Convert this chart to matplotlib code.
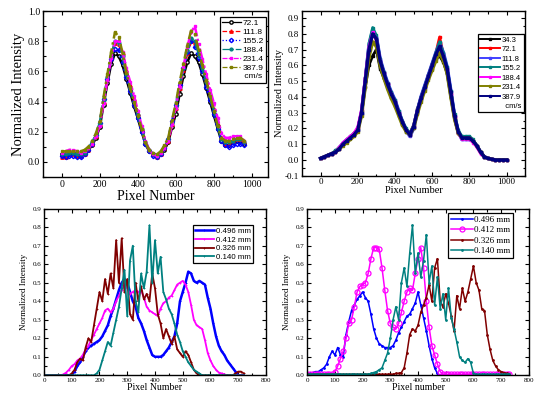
import matplotlib
matplotlib.use("Agg")
import matplotlib.pyplot as plt
from matplotlib.lines import Line2D
from matplotlib.ticker import MultipleLocator, FormatStrFormatter

# ---------------- data ----------------
# Panel (a): pixel positions and normalized intensity per flow speed (cm/s)
pix_a = list(range(0, 961, 20))
a_labels = ["72.1", "111.8", "155.2", "188.4", "231.4", "387.9"]
a_721 = [0.05,0.05,0.06,0.06,0.05,0.05,0.06,0.08,0.11,0.16,0.23,0.38,0.52,0.65,0.72,0.70,0.64,0.55,0.46,0.37,0.29,0.20,0.12,0.07,0.05,0.04,0.05,0.08,0.13,0.23,0.32,0.45,0.57,0.66,0.72,0.70,0.66,0.58,0.49,0.40,0.31,0.22,0.14,0.11,0.11,0.13,0.14,0.14,0.12]
a_1118 = [0.03,0.03,0.05,0.05,0.04,0.04,0.05,0.08,0.12,0.17,0.25,0.40,0.55,0.69,0.79,0.78,0.72,0.61,0.51,0.42,0.32,0.22,0.13,0.08,0.05,0.03,0.05,0.09,0.14,0.25,0.36,0.49,0.61,0.72,0.80,0.79,0.73,0.64,0.54,0.45,0.35,0.25,0.16,0.12,0.12,0.14,0.15,0.15,0.13]
a_1552 = [0.04,0.03,0.04,0.04,0.03,0.03,0.05,0.08,0.12,0.18,0.26,0.42,0.55,0.68,0.75,0.74,0.66,0.56,0.47,0.38,0.29,0.20,0.12,0.07,0.04,0.03,0.05,0.09,0.15,0.27,0.38,0.51,0.62,0.73,0.80,0.76,0.69,0.60,0.50,0.41,0.32,0.22,0.14,0.11,0.10,0.11,0.12,0.12,0.11]
a_1884 = [0.05,0.05,0.06,0.06,0.05,0.05,0.06,0.09,0.13,0.18,0.26,0.41,0.56,0.70,0.80,0.79,0.70,0.58,0.49,0.40,0.31,0.22,0.13,0.08,0.05,0.04,0.06,0.10,0.15,0.26,0.37,0.50,0.62,0.74,0.82,0.80,0.72,0.62,0.53,0.44,0.34,0.24,0.15,0.13,0.13,0.14,0.15,0.15,0.13]
a_2314 = [0.06,0.07,0.08,0.08,0.07,0.06,0.07,0.09,0.12,0.17,0.24,0.39,0.54,0.69,0.80,0.80,0.73,0.62,0.53,0.44,0.34,0.24,0.14,0.08,0.05,0.04,0.06,0.09,0.14,0.25,0.36,0.50,0.63,0.76,0.86,0.90,0.78,0.68,0.58,0.48,0.39,0.29,0.19,0.16,0.16,0.17,0.17,0.17,0.14]
a_3879 = [0.07,0.07,0.07,0.07,0.07,0.07,0.08,0.10,0.14,0.19,0.27,0.43,0.58,0.73,0.86,0.83,0.72,0.59,0.49,0.40,0.31,0.22,0.13,0.08,0.06,0.05,0.07,0.11,0.16,0.28,0.39,0.53,0.65,0.77,0.87,0.85,0.74,0.64,0.54,0.44,0.34,0.24,0.16,0.14,0.14,0.15,0.16,0.16,0.14]

# Panel (b)
pix_b = list(range(0, 1001, 20))
b_labels = ["34.3", "72.1", "111.8", "155.2", "188.4", "231.4", "387.9"]
b_343 = [0.01,0.02,0.03,0.04,0.05,0.07,0.10,0.12,0.14,0.16,0.19,0.29,0.46,0.60,0.66,0.70,0.58,0.52,0.46,0.40,0.36,0.29,0.23,0.18,0.16,0.21,0.30,0.38,0.45,0.52,0.58,0.64,0.66,0.62,0.55,0.40,0.26,0.17,0.14,0.14,0.14,0.12,0.09,0.05,0.02,0.01,0.005,0,0,0,0]
b_721 = [0.01,0.02,0.03,0.04,0.05,0.07,0.10,0.12,0.14,0.17,0.20,0.31,0.52,0.72,0.80,0.76,0.62,0.55,0.48,0.42,0.37,0.30,0.24,0.19,0.17,0.22,0.32,0.40,0.47,0.54,0.61,0.68,0.78,0.67,0.58,0.42,0.27,0.17,0.14,0.14,0.14,0.12,0.09,0.05,0.02,0.01,0.005,0,0,0,0]
b_1118 = [0.01,0.02,0.03,0.04,0.05,0.07,0.10,0.12,0.14,0.16,0.19,0.30,0.50,0.72,0.82,0.78,0.64,0.56,0.49,0.43,0.38,0.31,0.24,0.19,0.15,0.20,0.31,0.40,0.47,0.54,0.61,0.68,0.74,0.68,0.59,0.44,0.28,0.18,0.13,0.13,0.13,0.12,0.09,0.05,0.02,0.01,0.005,0,0,0,0]
b_1552 = [0.01,0.02,0.03,0.04,0.06,0.08,0.11,0.13,0.15,0.17,0.20,0.31,0.52,0.74,0.84,0.79,0.64,0.56,0.49,0.43,0.38,0.31,0.25,0.20,0.17,0.22,0.32,0.40,0.47,0.54,0.61,0.68,0.75,0.68,0.59,0.44,0.29,0.19,0.15,0.15,0.15,0.13,0.09,0.05,0.02,0.01,0.005,0,0,0,0]
b_1884 = [0.01,0.02,0.03,0.04,0.05,0.08,0.11,0.13,0.15,0.17,0.21,0.32,0.52,0.72,0.81,0.77,0.63,0.55,0.48,0.42,0.37,0.30,0.24,0.19,0.16,0.21,0.31,0.39,0.46,0.53,0.60,0.66,0.72,0.66,0.57,0.42,0.27,0.17,0.13,0.13,0.13,0.11,0.08,0.04,0.02,0.01,0.005,0,0,0,0]
b_2314 = [0.01,0.02,0.03,0.04,0.05,0.07,0.09,0.11,0.13,0.15,0.18,0.28,0.46,0.65,0.75,0.72,0.60,0.52,0.45,0.39,0.34,0.28,0.22,0.18,0.16,0.20,0.29,0.37,0.44,0.51,0.57,0.63,0.68,0.63,0.55,0.40,0.26,0.17,0.14,0.14,0.14,0.12,0.09,0.05,0.02,0.01,0.005,0,0,0,0]
b_3879 = [0.01,0.02,0.03,0.04,0.05,0.07,0.10,0.12,0.14,0.16,0.19,0.30,0.50,0.70,0.80,0.77,0.63,0.55,0.48,0.42,0.37,0.30,0.24,0.19,0.16,0.21,0.31,0.39,0.46,0.53,0.60,0.67,0.72,0.66,0.58,0.43,0.28,0.18,0.14,0.14,0.14,0.12,0.09,0.05,0.02,0.01,0.005,0,0,0,0]

# Panel (c): pixel positions and intensity per gap (mm)
pix_c = list(range(0, 721, 10))
c_labels = ["0.496 mm", "0.412 mm", "0.326 mm", "0.140 mm"]
c_496 = [0,0,0,0,0,0,0,0,0,0,0,
         0.02,0.05,0.07,0.10,0.13,0.15,0.16,0.17,0.18,0.19,0.21,0.24,0.27,0.32,0.36,0.41,0.46,0.50,0.52,0.50,
         0.45,0.40,0.37,0.31,0.28,0.24,0.19,0.15,0.11,0.10,0.10,0.10,0.11,0.13,0.15,0.18,0.21,0.28,0.40,0.45,
         0.50,0.56,0.55,0.51,0.50,0.51,0.50,0.49,0.42,0.36,0.28,0.21,0.16,0.13,0.11,0.08,0.06,0.04,0.02,0.00,0,0]
c_412 = [0,0,0,0,0,0,0,
         0.005,0.015,0.03,0.05,0.06,0.08,0.09,0.11,0.14,0.16,0.19,0.22,0.25,0.28,0.31,0.35,0.36,0.34,0.36,0.40,
         0.43,0.46,0.49,0.47,0.44,0.45,0.46,0.45,0.46,0.42,0.37,0.35,0.34,0.33,0.32,0.36,0.39,0.40,0.42,0.43,
         0.46,0.49,0.50,0.51,0.49,0.45,0.38,0.30,0.27,0.26,0.25,0.19,0.12,0.08,0.05,0.03,0.015,0.01,0.005,
         0,0,0,0,0,0,0]
c_326 = [0,0,0,0,0,0,0,0,0,0,
         0.01,0.03,0.07,0.09,0.08,0.15,0.20,0.18,0.27,0.36,0.45,0.40,0.52,0.44,0.55,0.47,0.73,0.50,0.74,0.45,
         0.52,0.33,0.30,0.50,0.40,0.48,0.41,0.44,0.40,0.55,0.47,0.33,0.28,0.20,0.25,0.21,0.17,0.21,0.14,0.12,
         0.10,0.13,0.11,0.07,0.03,0.01,0.005,
         0,0,0,0,0,0,0,0,0,0,0,0,0.01,0.02,0.02,0.01]
c_140 = [0,0,0,0,0,0,0,0,0,0,0,0,0,0,0,0,0,0,0,
         0.01,0.03,0.08,0.13,0.18,0.16,0.23,0.30,0.37,0.47,0.57,0.32,0.62,0.70,0.40,0.34,0.55,0.47,0.56,0.81,
         0.50,0.73,0.55,0.64,0.45,0.41,0.36,0.33,0.28,0.22,0.18,0.13,0.10,0.07,0.05,0.03,0.02,0.01,0,
         0,0,0,0,0,0,0,0,0,0,0,0,0,0,0]

# Panel (d)
pix_d = list(range(0, 731, 10))
d_labels = ["0.496 mm", "0.412 mm", "0.326 mm", "0.140 mm"]
d_496 = [0.01,0.01,0.015,0.02,0.02,0.03,0.04,0.06,0.10,0.13,0.11,0.15,0.11,0.10,0.22,0.29,0.35,0.38,0.41,0.43,
         0.45,0.42,0.40,0.33,0.25,0.20,0.17,0.16,0.15,0.15,0.15,0.16,0.19,0.23,0.26,0.29,0.32,0.33,0.36,0.39,
         0.45,0.38,0.31,0.24,0.16,0.09,0.04,0.01,0,
         0,0,0,0,0,0,0,0,0,0,0,0,0,0,0,0,0,0,0,0,0,0,0,0,0]
d_412 = [0.005,0.005,0.005,0.005,0.005,0.005,0.005,0.005,0.005,0.005,
         0.02,0.05,0.09,0.13,0.20,0.28,0.30,0.37,0.45,0.48,0.49,0.50,0.55,0.63,0.69,0.69,0.68,0.58,0.46,0.35,
         0.28,0.26,0.25,0.28,0.34,0.40,0.45,0.47,0.46,0.55,0.63,0.69,0.58,0.40,0.26,0.16,0.11,0.06,0.02,0.005,
         0.005,0.005,0.005,0.005,0.005,0.005,0.005,0.005,0.005,0.005,0.005,0.005,0.005,0.005,0.005,0.005,0.005,0.005,0.005,0.005,0.005,0.005,0.005,0.005]
d_326 = [0.005,0.005,0.005,0.005,0.005,0.005,0.005,0.005,0.005,0.005,0.005,0.005,0.005,0.005,0.005,0.005,
         0.005,0.005,0.005,0.005,0.005,0.005,0.005,0.005,0.005,0.005,0.005,0.005,0.005,0.005,0.005,
         0.005,0.01,0.01,0.015,0.04,0.12,0.22,0.25,0.24,0.27,0.34,0.38,0.42,0.49,0.40,0.58,0.63,0.40,0.37,
         0.44,0.39,0.32,0.24,0.43,0.36,0.47,0.40,0.45,0.52,0.59,0.50,0.46,0.36,0.35,0.22,0.14,0.08,0.05,0.03,
         0.02,0.015,0.01,0.005]
d_140 = [0.005,0.005,0.005,0.005,0.005,0.005,0.005,0.005,0.005,0.005,0.005,0.005,0.005,0.005,0.005,0.005,
         0.005,0.005,0.005,0.005,0.005,0.005,0.005,
         0.01,0.015,0.02,0.03,0.04,0.08,0.12,0.20,0.30,0.37,0.30,0.50,0.58,0.48,0.66,0.81,0.55,0.66,0.53,
         0.62,0.76,0.50,0.59,0.38,0.53,0.36,0.44,0.30,0.47,0.31,0.25,0.18,0.10,0.08,0.07,0.09,0.07,0.01,0.005,
         0.005,0.005,0.005,0.005,0.005,0.005,0.005,0.005,0.005,0.005,0.005,0.005]

# ---------------- figure ----------------
SERIF = "Liberation Serif"
SANS = "Liberation Sans"
fig = plt.figure(figsize=(5.34, 3.96), dpi=100)

def style_axes(ax, tick_fs, xmaj, xmin, ymaj, ymin):
    for s in ax.spines.values():
        s.set_linewidth(1.0)
    ax.xaxis.set_major_locator(MultipleLocator(xmaj))
    ax.xaxis.set_minor_locator(MultipleLocator(xmin))
    ax.yaxis.set_major_locator(MultipleLocator(ymaj))
    ax.yaxis.set_minor_locator(MultipleLocator(ymin))
    ax.yaxis.set_major_formatter(FormatStrFormatter("%.1f"))
    ax.tick_params(which="both", direction="in", top=True, right=True, width=0.8)
    ax.tick_params(which="major", length=3, labelsize=tick_fs, pad=2)
    ax.tick_params(which="minor", length=1.8)
    for lab in ax.get_xticklabels() + ax.get_yticklabels():
        lab.set_fontfamily(SERIF)

def box_legend(ax, handles, labels, anchor, family, size, hl, lsp):
    leg = ax.legend(handles, labels, loc="upper right", bbox_to_anchor=anchor, borderaxespad=0,
                    prop={"family": family, "size": size}, handlelength=hl, handletextpad=0.2,
                    labelspacing=lsp, borderpad=0.3, fancybox=False, framealpha=1, edgecolor="black")
    leg.get_frame().set_linewidth(0.9)
    return leg

# ---- panel (a)
ax1 = fig.add_axes([0.080, 0.553, 0.422, 0.419])
a_series = [a_721, a_1118, a_1552, a_1884, a_2314, a_3879]
a_styles = [
    dict(color="black", ls="-", marker="o", mfc="white", ms=2.4),
    dict(color="red", ls="--", marker="^", ms=2.4),
    dict(color="blue", ls=":", marker="D", mfc="none", ms=2.2),
    dict(color="#008080", ls="-.", marker="o", ms=2.0),
    dict(color="magenta", dashes=(4, 1, 1, 1, 1, 1), marker="s", ms=2.0),
    dict(color="#808000", dashes=(4, 1.5, 1, 1.5), marker="s", ms=2.0),
]
for ys, st, lab in zip(a_series, a_styles, a_labels):
    ax1.plot(pix_a, ys, lw=1.8, label=lab, **st)
ax1.set_xlim(-100, 1085)
ax1.set_ylim(-0.1, 1.0)
style_axes(ax1, 7, 200, 100, 0.2, 0.1)
ax1.set_xlabel("Pixel Number", fontfamily=SERIF, fontsize=10, labelpad=1)
ax1.set_ylabel("Normalized Intensity", fontfamily=SERIF, fontsize=10.5, labelpad=2)
h, l = ax1.get_legend_handles_labels()
h.append(Line2D([], [], color="none"))
l.append(" cm/s")
leg1 = box_legend(ax1, h, l, (0.991, 0.964), SANS, 6, 2.2, 0.12)
for ln in leg1.get_lines():
    ln.set_linewidth(0.9)

# ---- panel (b)
ax2 = fig.add_axes([0.5655, 0.5563, 0.418, 0.416])
b_series = [b_343, b_721, b_1118, b_1552, b_1884, b_2314, b_3879]
b_colors = ["black", "red", "#4040ff", "#008080", "magenta", "#808000", "#000080"]
b_lw = [2.0, 2.0, 2.6, 2.0, 2.0, 2.4, 2.4]
for ys, c, lw, lab in zip(b_series, b_colors, b_lw, b_labels):
    ax2.plot(pix_b, ys, color=c, lw=lw, marker="s", ms=1.8, label=lab)
ax2.set_xlim(-100, 1100)
ax2.set_ylim(-0.1, 0.945)
style_axes(ax2, 6.5, 200, 100, 0.1, 0.05)
ax2.set_xlabel("Pixel Number", fontfamily=SERIF, fontsize=7.5, labelpad=0)
ax2.set_ylabel("Normalized Intensity", fontfamily=SERIF, fontsize=7.5, labelpad=1)
h, l = ax2.get_legend_handles_labels()
h.append(Line2D([], [], color="none"))
l.append("  cm/s")
leg2 = box_legend(ax2, h, l, (0.994, 0.860), SANS, 5.5, 2.6, 0.28)
for ln in leg2.get_lines():
    ln.set_linewidth(1.4)

# ---- panel (c)
ax3 = fig.add_axes([0.0824, 0.0523, 0.4157, 0.4207])
c_series = [c_496, c_412, c_326, c_140]
c_colors = ["blue", "magenta", "#800000", "#008080"]
c_lw = [1.8, 1.3, 1.3, 1.3]
for ys, c, lw, lab in zip(c_series, c_colors, c_lw, c_labels):
    ax3.plot(pix_c, ys, color=c, lw=lw, marker="+", ms=2, mew=0.6, label=lab)
ax3.set_xlim(0, 800)
ax3.set_ylim(0, 0.9)
style_axes(ax3, 5, 100, 50, 0.1, 0.05)
ax3.set_xlabel("Pixel Number", fontfamily=SERIF, fontsize=7, labelpad=0)
ax3.set_ylabel("Normalized Intensity", fontfamily=SERIF, fontsize=6.5, labelpad=3)
h, l = ax3.get_legend_handles_labels()
box_legend(ax3, h, l, (0.941, 0.902), SANS, 5.7, 2.4, 0.15)

# ---- panel (d)
ax4 = fig.add_axes([0.5753, 0.0523, 0.4150, 0.4207])
d_series = [d_496, d_412, d_326, d_140]
d_styles = [
    dict(color="blue", lw=1.1, marker=".", ms=2),
    dict(color="magenta", lw=1.1, marker="o", mfc="none", ms=3.6, mew=0.9),
    dict(color="#800000", lw=1.1, marker=".", ms=2),
    dict(color="#008080", lw=1.1, marker=".", ms=2),
]
for ys, st, lab in zip(d_series, d_styles, d_labels):
    ax4.plot(pix_d, ys, label=lab, **st)
ax4.set_xlim(0, 800)
ax4.set_ylim(0, 0.9)
style_axes(ax4, 5, 100, 50, 0.1, 0.05)
ax4.set_xlabel("Pixel number", fontfamily=SERIF, fontsize=7, labelpad=0)
ax4.set_ylabel("Normalized Intensity", fontfamily=SERIF, fontsize=6.5, labelpad=3)
h, l = ax4.get_legend_handles_labels()
box_legend(ax4, h, l, (0.930, 0.976), SERIF, 6.5, 2.4, 0.25)

fig.savefig("out.png", dpi=100)
